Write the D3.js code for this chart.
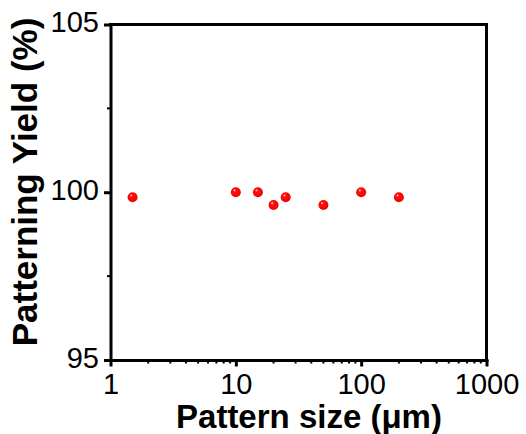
<!DOCTYPE html>
<html>
<head>
<meta charset="utf-8">
<script src="https://cdn.jsdelivr.net/npm/d3@7"></script>
<style>
  body { margin: 0; background: #fff; }
  svg { display: block; }
  .tick text { font-family: "Liberation Sans", Arial, sans-serif; }
</style>
</head>
<body>
<div id="chart"></div>
<script>
// pattern sizes (um) and measured yield (%)
var sizes  = [1.5, 10, 15, 20, 25, 50, 100, 200];
var yields = [99.85, 100, 100, 99.62, 99.85, 99.62, 100, 99.85];

var xTicks = [1, 10, 100, 1000];
var yTicks = [95, 100, 105];
var yMinor = [97.5, 102.5];

var width = 526, height = 434;
var margin = {top: 24.5, right: 39.5, bottom: 74, left: 110.5};

var svg = d3.select("#chart").append("svg")
    .attr("width", width)
    .attr("height", height);

var defs = svg.append("defs");
var grad = defs.append("radialGradient")
    .attr("id", "ball")
    .attr("cx", "45%").attr("cy", "40%").attr("r", "60%")
    .attr("fx", "35%").attr("fy", "30%");
grad.append("stop").attr("offset", "0%").attr("stop-color", "#ffe0e0");
grad.append("stop").attr("offset", "25%").attr("stop-color", "#ff1010");
grad.append("stop").attr("offset", "100%").attr("stop-color", "#f00000");

var x = d3.scaleLog()
    .domain([1, 1000])
    .range([margin.left, width - margin.right]);

var y = d3.scaleLinear()
    .domain([95, 105])
    .range([height - margin.bottom, margin.top]);

// minor ticks on the log axis: 2..9 of each decade
var xMinor = [];
[1, 10, 100].forEach(function(d){
    for (var k = 2; k <= 9; k++) xMinor.push(d * k);
});

// frame lines (top and right)
svg.append("line")
    .attr("x1", x(1)).attr("x2", x(1000))
    .attr("y1", y(105)).attr("y2", y(105))
    .attr("stroke", "#000").attr("stroke-width", 3)
    .attr("stroke-linecap", "square");
svg.append("line")
    .attr("x1", x(1000)).attr("x2", x(1000))
    .attr("y1", y(105)).attr("y2", y(95))
    .attr("stroke", "#000").attr("stroke-width", 3)
    .attr("stroke-linecap", "square");

// minor ticks
svg.append("g").selectAll("line").data(xMinor).enter().append("line")
    .attr("x1", function(d){ return x(d); })
    .attr("x2", function(d){ return x(d); })
    .attr("y1", y(95)).attr("y2", y(95) + 3.5)
    .attr("stroke", "#000").attr("stroke-width", 2);

svg.append("g").selectAll("line").data(yMinor).enter().append("line")
    .attr("x1", x(1) - 3.5).attr("x2", x(1))
    .attr("y1", function(d){ return y(d); })
    .attr("y2", function(d){ return y(d); })
    .attr("stroke", "#000").attr("stroke-width", 2);

// bottom axis
var xAxis = svg.append("g")
    .attr("transform", "translate(0," + y(95) + ")")
    .call(d3.axisBottom(x).tickValues(xTicks).tickFormat(d3.format("d"))
        .tickSize(6.5).tickSizeOuter(0).tickPadding(4));

// left axis
var yAxis = svg.append("g")
    .attr("transform", "translate(" + x(1) + ",0)")
    .call(d3.axisLeft(y).tickValues(yTicks).tickFormat(d3.format("d"))
        .tickSize(6.5).tickSizeOuter(0).tickPadding(5));

[xAxis, yAxis].forEach(function(ax){
    ax.select(".domain").attr("stroke-width", 3).attr("stroke-linecap", "square");
    ax.selectAll(".tick line").attr("stroke-width", 3);
    ax.selectAll(".tick text").attr("font-size", 29).attr("fill", "#000");
});
xAxis.selectAll(".tick text").attr("dy", "0.82em");
yAxis.selectAll(".tick text").attr("dy", "0.25em");

// data points
svg.append("g").selectAll("circle").data(sizes).enter().append("circle")
    .attr("cx", function(d){ return x(d); })
    .attr("cy", function(d, i){ return y(yields[i]); })
    .attr("r", 5)
    .attr("fill", "url(#ball)");

// axis titles
svg.append("text")
    .attr("x", 309).attr("y", 428)
    .attr("text-anchor", "middle")
    .attr("font-family", "Liberation Sans, Arial, sans-serif")
    .attr("font-weight", "bold")
    .attr("font-size", 33)
    .text("Pattern size (μm)");

svg.append("text")
    .attr("transform", "translate(37,182) rotate(-90)")
    .attr("text-anchor", "middle")
    .attr("font-family", "Liberation Sans, Arial, sans-serif")
    .attr("font-weight", "bold")
    .attr("font-size", 35)
    .text("Patterning Yield (%)");
</script>
</body>
</html>
